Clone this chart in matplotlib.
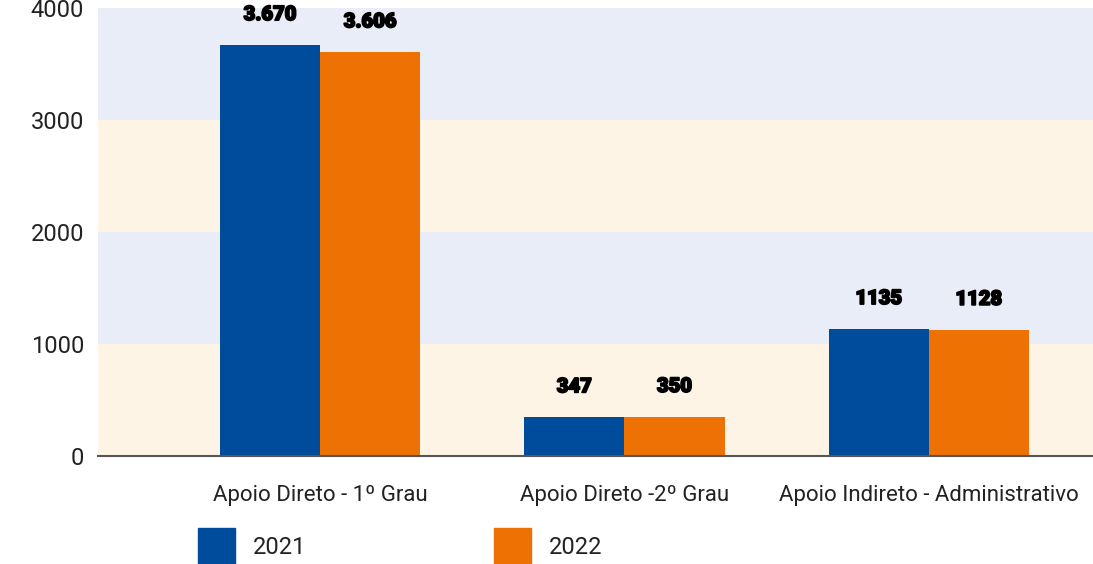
import numpy as np
import matplotlib.pyplot as plt
import matplotlib.transforms as mtransforms
import matplotlib.patheffects as pe

categorias = ["Apoio Direto - 1º Grau", "Apoio Direto -2º Grau", "Apoio Indireto - Administrativo"]
valores_2021 = [3670, 347, 1135]
valores_2022 = [3606, 350, 1128]
rotulos_2021 = ["3.670", "347", "1135"]
rotulos_2022 = ["3.606", "350", "1128"]
anos = ["2021", "2022"]
yticks = [0, 1000, 2000, 3000, 4000]

azul = "#004c9c"
laranja = "#ee7203"
faixa_azul = "#e8edf7"
faixa_creme = "#fdf4e5"

plt.rcParams['font.family'] = ['Roboto', 'DejaVu Sans']

fig = plt.figure(figsize=(10.93, 5.64), dpi=100)
ax = fig.add_axes([98 / 1093, 1 - 456 / 564, (1093 - 98) / 1093, (456 - 8) / 564])

x = np.arange(len(categorias))
largura = 0.329

# faixas de fundo alternadas
for i in range(len(yticks) - 1):
    cor = faixa_creme if i % 2 == 0 else faixa_azul
    ax.axhspan(yticks[i], yticks[i + 1], color=cor, zorder=0, lw=0)

b1 = ax.bar(x - largura / 2, valores_2021, largura, color=azul, zorder=2)
b2 = ax.bar(x + largura / 2, valores_2022, largura, color=laranja, zorder=2)

# rótulos de valor (bem grossos, como no original)
for barras, rotulos in [(b1, rotulos_2021), (b2, rotulos_2022)]:
    for b, r in zip(barras, rotulos):
        ax.annotate(r, (b.get_x() + b.get_width() / 2, b.get_height()),
                    xytext=(0, 15), textcoords='offset points', ha='center', va='bottom',
                    fontsize=14.5, fontweight='black', color='black', clip_on=False,
                    path_effects=[pe.withStroke(linewidth=1.3, foreground='black')])

ax.set_xlim(-0.73, 2.54)
ax.set_ylim(0, 4000)
ax.set_yticks(yticks)
ax.set_yticklabels([str(v) for v in yticks], fontsize=17, color='#222222')
offset = mtransforms.ScaledTranslation(0, -6 / 72, fig.dpi_scale_trans)
for lbl in ax.get_yticklabels():
    lbl.set_transform(lbl.get_transform() + offset)
ax.set_xticks(x)
ax.set_xticklabels(categorias, fontsize=16, color='#222222')
ax.tick_params(axis='both', length=0)
ax.tick_params(axis='x', pad=21)
ax.tick_params(axis='y', pad=10)

for s in ['top', 'right', 'left']:
    ax.spines[s].set_visible(False)
ax.spines['bottom'].set_color('#555555')
ax.spines['bottom'].set_linewidth(1.5)
ax.spines['bottom'].set_zorder(3)

# legenda manual
for cor, ano, xq in [(azul, anos[0], 198), (laranja, anos[1], 494)]:
    fig.patches.append(plt.Rectangle((xq / 1093, 1 - 565 / 564), 37 / 1093, 37 / 564,
                                     transform=fig.transFigure, color=cor))
    fig.text((xq + 55) / 1093, 1 - 548 / 564, ano, fontsize=17, color='#222222',
             va='center', ha='left')

fig.savefig("out.png", dpi=100)
